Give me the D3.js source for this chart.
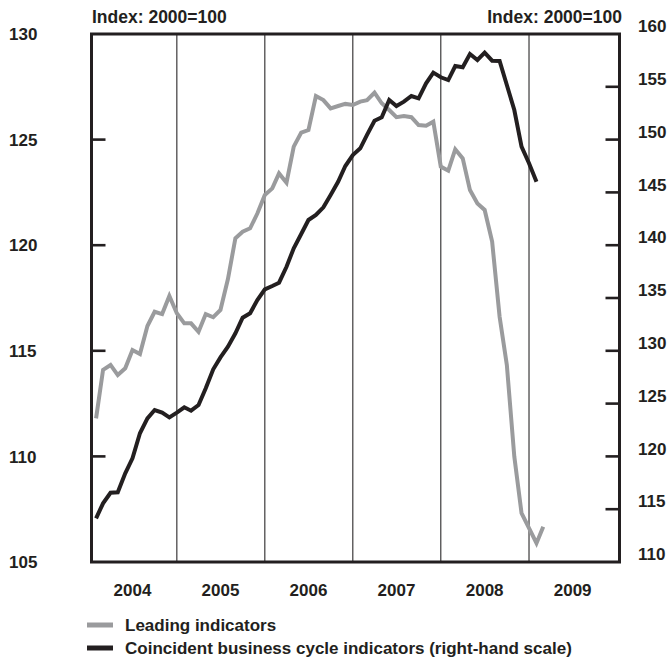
<!DOCTYPE html>
<html>
<head>
<meta charset="utf-8">
<script src="https://cdn.jsdelivr.net/npm/d3@7"></script>
<style>
  body { margin: 0; background: #fff; }
  text { font-family: "Liberation Sans", Arial, Helvetica, sans-serif; font-weight: bold; fill: #231f20; }
</style>
</head>
<body>
<svg id="chart" width="672" height="661"></svg>
<script>
// monthly values, first point = Jan 2004
const leading = [111.8, 114.1, 114.33, 113.85, 114.17, 115.04, 114.85, 116.17, 116.85, 116.74, 117.6, 116.78,
  116.3, 116.3, 115.9, 116.74, 116.59, 116.93, 118.4, 120.33, 120.64, 120.8, 121.5, 122.38,
  122.69, 123.4, 122.96, 124.67, 125.33, 125.45, 127.06, 126.87, 126.48, 126.59, 126.69, 126.64,
  126.8, 126.87, 127.22, 126.72, 126.4, 126.06, 126.12, 126.06, 125.69, 125.66, 125.85, 123.72,
  123.53, 124.54, 124.11, 122.61, 121.98, 121.67, 120.17, 116.61, 114.33, 109.99, 107.31, 106.6,
  105.89, 106.67];
const coincident = [114.14, 115.56, 116.56, 116.6, 118.4, 119.82, 122.19, 123.6, 124.39, 124.14, 123.7, 124.14,
  124.65, 124.33, 124.87, 126.45, 128.25, 129.38, 130.39, 131.66, 133.13, 133.55, 134.8, 135.82,
  136.14, 136.45, 137.96, 139.71, 141.06, 142.39, 142.86, 143.59, 144.75, 146.01, 147.5, 148.54,
  149.17, 150.44, 151.79, 152.11, 153.75, 153.18, 153.59, 154.13, 153.91, 155.33, 156.34, 155.9,
  155.64, 156.97, 156.85, 158.11, 157.54, 158.23, 157.47, 157.44, 155.17, 152.8, 149.33, 147.76,
  146.01];
const years = [2004, 2005, 2006, 2007, 2008, 2009];
const leftTicks = [105, 110, 115, 120, 125, 130];
const rightTicks = [110, 115, 120, 125, 130, 135, 140, 145, 150, 155, 160];
const legendLabels = ["Leading indicators", "Coincident business cycle indicators (right-hand scale)"];
const unitLabel = "Index: 2000=100";

const svg = d3.select("#chart");
const grey = "#9a9b9d", black = "#231f20";
const frame = {left: 91.5, right: 619.5, top: 34, bottom: 562};

const x = d3.scaleTime()
  .domain([new Date(2004, 0, 1), new Date(2010, 0, 1)])
  .range([88.6, 617]);
const yL = d3.scaleLinear().domain([105, 130]).range([frame.bottom, frame.top]);
const yR = d3.scaleLinear().domain([110, 160]).range([frame.bottom, frame.top]);

// points sit at the end of each month
const monthEnd = i => new Date(2004, i + 1, 1);

// year separators
svg.selectAll("line.grid")
  .data(years.slice(1))
  .join("line")
    .attr("class", "grid")
    .attr("x1", d => x(new Date(d, 0, 1)))
    .attr("x2", d => x(new Date(d, 0, 1)))
    .attr("y1", frame.top)
    .attr("y2", frame.bottom)
    .attr("stroke", "#3c3a3b")
    .attr("stroke-width", 1.2);

// inward ticks
svg.selectAll("line.ltick")
  .data(leftTicks.slice(1, -1))
  .join("line")
    .attr("x1", frame.left).attr("x2", frame.left + 14)
    .attr("y1", d => yL(d)).attr("y2", d => yL(d))
    .attr("stroke", black).attr("stroke-width", 2.6);

svg.selectAll("line.rtick")
  .data(rightTicks.slice(1, -1))
  .join("line")
    .attr("x1", frame.right - 14).attr("x2", frame.right)
    .attr("y1", d => yR(d)).attr("y2", d => yR(d))
    .attr("stroke", black).attr("stroke-width", 2.6);

// series
const lineL = d3.line().x((d, i) => x(monthEnd(i))).y(d => yL(d)).curve(d3.curveLinear);
const lineR = d3.line().x((d, i) => x(monthEnd(i))).y(d => yR(d)).curve(d3.curveLinear);

svg.append("path")
  .datum(leading)
  .attr("d", lineL)
  .attr("fill", "none")
  .attr("stroke", grey)
  .attr("stroke-width", 4)
  .attr("stroke-linejoin", "miter");

svg.append("path")
  .datum(coincident)
  .attr("d", lineR)
  .attr("fill", "none")
  .attr("stroke", black)
  .attr("stroke-width", 4)
  .attr("stroke-linejoin", "miter");

// frame
svg.append("path")
  .attr("d", `M${frame.left},${frame.top}V${frame.bottom}H${frame.right}V${frame.top}Z`)
  .attr("fill", "none")
  .attr("stroke", black)
  .attr("stroke-width", 3);

// axis labels
svg.selectAll("text.lt")
  .data(leftTicks)
  .join("text")
    .attr("x", 9)
    .attr("y", d => yL(d))
    .attr("dy", "0.36em")
    .style("font-size", "17px")
    .text(d => d);

svg.selectAll("text.rt")
  .data(rightTicks)
  .join("text")
    .attr("x", 638)
    .attr("y", d => yR(d) - 8)
    .attr("dy", "0.36em")
    .style("font-size", "17px")
    .text(d => d);

svg.selectAll("text.yr")
  .data(years)
  .join("text")
    .attr("x", d => x(new Date(d, 6, 1)))
    .attr("y", 596)
    .attr("text-anchor", "middle")
    .style("font-size", "17px")
    .text(d => d);

svg.append("text")
  .attr("x", 92).attr("y", 23)
  .style("font-size", "17.5px")
  .text(unitLabel);

svg.append("text")
  .attr("x", 622).attr("y", 23)
  .attr("text-anchor", "end")
  .style("font-size", "17.5px")
  .text(unitLabel);

// legend
const legend = svg.selectAll("g.legend")
  .data(legendLabels)
  .join("g")
    .attr("transform", (d, i) => `translate(87, ${625 + i * 23})`);

legend.append("line")
  .attr("x1", 0).attr("x2", 26)
  .attr("stroke", (d, i) => i === 0 ? grey : black)
  .attr("stroke-width", 5);

legend.append("text")
  .attr("x", 38)
  .attr("dy", "0.36em")
  .style("font-size", "17px")
  .text(d => d);
</script>
</body>
</html>
